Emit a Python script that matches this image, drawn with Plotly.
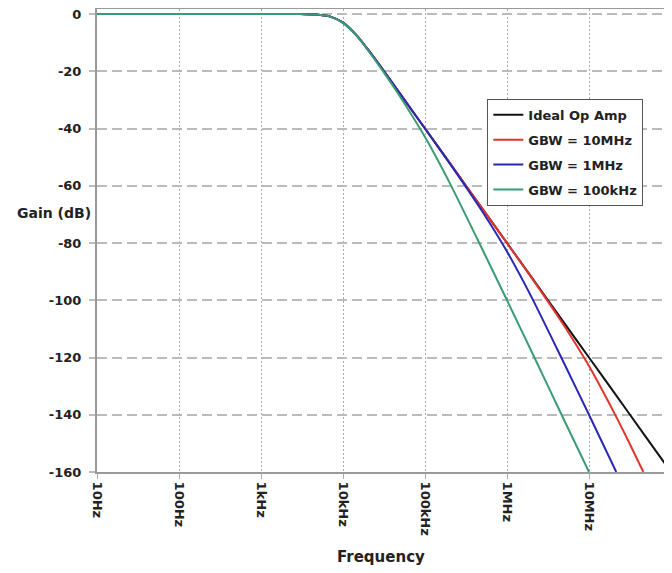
import plotly.graph_objects as go

# ---- data ----
tick_freqs = [10, 100, 1e3, 1e4, 1e5, 1e6, 1e7, 1e8]
tick_labels = ["10Hz", "100Hz", "1kHz", "10kHz", "100kHz", "1MHz", "10MHz", "100MHz"]
gain_ticks = [0, -20, -40, -60, -80, -100, -120, -140, -160]
gain_labels = ["0", "-20", "-40", "-60", "-80", "-100", "-120", "-140", "-160"]

ideal_f = [10, 100, 1e3, 3e3, 5e3, 7e3, 1e4, 1.5e4, 2e4, 3e4, 5e4, 1e5, 2e5, 5e5,
           1e6, 2e6, 5e6, 1e7, 2e7, 5e7, 1e8]
ideal_db = [0, 0, 0, 0, -0.3, -0.9, -3.0, -7.8, -12.3, -19.1, -28.0, -40.0, -52.0, -68.0,
            -80.0, -92.0, -108.0, -120.0, -132.0, -148.0, -160.0]

gbw10m_f = [10, 100, 1e3, 3e3, 5e3, 7e3, 1e4, 1.5e4, 2e4, 3e4, 5e4, 1e5, 2e5, 5e5,
            1e6, 2e6, 5e6, 1e7, 2e7, 3e7, 4.6e7]
gbw10m_db = [0, 0, 0, 0, -0.3, -0.9, -3.0, -7.8, -12.3, -19.1, -28.0, -40.0, -52.0, -68.0,
             -80.0, -92.2, -109.0, -123.0, -139.0, -149.0, -160.0]

gbw1m_f = [10, 100, 1e3, 3e3, 5e3, 7e3, 1e4, 1.5e4, 2e4, 3e4, 5e4, 1e5, 2e5, 5e5,
           1e6, 2e6, 5e6, 1e7, 2.15e7]
gbw1m_db = [0, 0, 0, 0, -0.3, -0.9, -3.0, -7.8, -12.3, -19.1, -28.0, -40.0, -52.2, -69.0,
            -83.0, -99.0, -122.2, -140.0, -160.0]

gbw100k_f = [10, 100, 1e3, 3e3, 5e3, 7e3, 1e4, 1.5e4, 2e4, 3e4, 5e4, 1e5, 2e5, 5e5,
             1e6, 2e6, 5e6, 1e7]
gbw100k_db = [0, 0, 0, 0, -0.3, -0.9, -3.1, -7.9, -12.5, -19.5, -29.0, -43.0, -59.0, -82.2,
              -100.0, -118.0, -142.0, -160.0]

series = [
    ("Ideal Op Amp", ideal_f, ideal_db, "#111111"),
    ("GBW = 10MHz", gbw10m_f, gbw10m_db, "#e0342c"),
    ("GBW = 1MHz", gbw1m_f, gbw1m_db, "#2828b8"),
    ("GBW = 100kHz", gbw100k_f, gbw100k_db, "#3a9c72"),
]

FONT = "DejaVu Sans"

fig = go.Figure()
for i, (name, f, db, col) in enumerate(series):
    fig.add_trace(go.Scatter(
        x=f, y=db, mode="lines", name=name, legendgroup=f"g{i}",
        line=dict(color=col, width=2, shape="spline", smoothing=0.6),
    ))

# the page body has an 8px margin, so the figure is sized to fit the window
fig.update_layout(
    width=664, height=565,
    margin=dict(l=89, r=1, t=1, b=101),
    paper_bgcolor="white", plot_bgcolor="white",
    font=dict(family=FONT, size=13, color="#222222", weight="bold"),
    showlegend=True,
    legend=dict(
        x=0.68, y=0.806, xanchor="left", yanchor="top",
        bgcolor="white", bordercolor="#555555", borderwidth=1,
        font=dict(family=FONT, size=13, color="#222222", weight="bold"),
        traceorder="grouped", tracegroupgap=5,
        itemwidth=30,
    ),
    xaxis=dict(
        type="log", range=[1, 8], automargin=False,
        tickvals=tick_freqs, ticktext=tick_labels, tickangle=90,
        tickfont=dict(family=FONT, size=13, color="#222222", weight="bold"),
        ticklabeloverflow="allow",
        showgrid=True, gridcolor="#a8a8a8", gridwidth=1, griddash="2px,2px",
        showline=True, linecolor="#999999", linewidth=2, mirror=True,
        ticks="outside", ticklen=5, tickcolor="#aaaaaa", tickwidth=1,
        zeroline=False,
    ),
    yaxis=dict(
        range=[-160, 1.75], automargin=False,
        tickvals=gain_ticks, ticktext=gain_labels,
        tickfont=dict(family=FONT, size=13, color="#222222", weight="bold"),
        ticklabeloverflow="allow", ticklabelstandoff=5,
        showgrid=True, gridcolor="#bbbbbb", gridwidth=2, griddash="10px,5px",
        showline=True, linecolor="#999999", linewidth=2,
        ticks="outside", ticklen=6, tickcolor="#bbbbbb", tickwidth=2,
        zeroline=False,
    ),
    annotations=[
        dict(text="Gain (dB)", xref="paper", x=0, xanchor="right", xshift=-4,
             yref="y", y=-69.5, yanchor="middle", showarrow=False,
             font=dict(family=FONT, size=14, color="#222222", weight="bold")),
        dict(text="Frequency", xref="paper", x=0.494, xanchor="center",
             yref="paper", y=0, yanchor="middle", yshift=-85, showarrow=False,
             font=dict(family=FONT, size=15, color="#222222", weight="bold")),
    ],
)

fig.write_html("out.html")
